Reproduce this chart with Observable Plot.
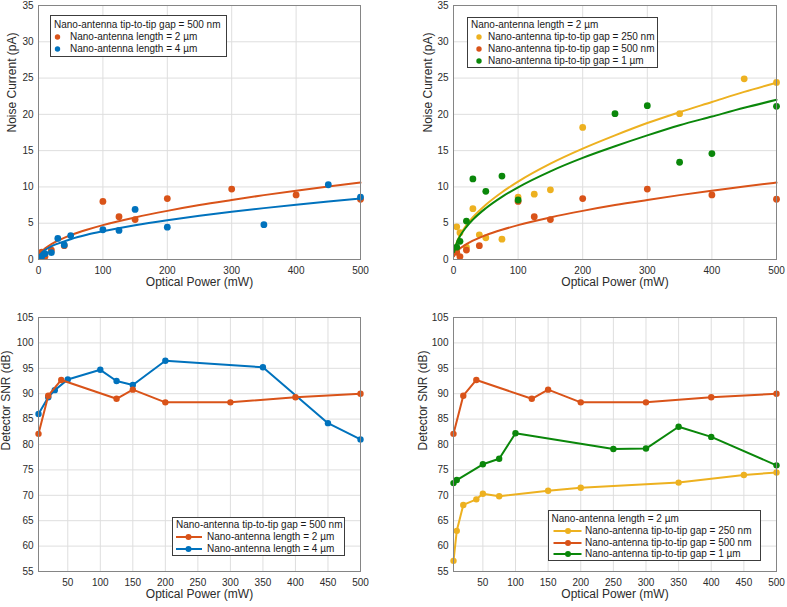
<!DOCTYPE html>
<html><head><meta charset="utf-8">
<script src="https://cdn.jsdelivr.net/npm/d3@7"></script>
<script src="https://cdn.jsdelivr.net/npm/@observablehq/plot@0.6"></script>
<style>
body{margin:0;background:#fff;font-family:"Liberation Sans",Arial,sans-serif;}
#fig{position:relative;width:787px;height:607px;overflow:hidden;background:#fff;}
.panel{position:absolute;}
.legend{position:absolute;background:#fff;border:1px solid #3c3c3c;font-size:10px;color:#1a1a1a;box-sizing:border-box;}
.legend .row{position:absolute;white-space:nowrap;line-height:12px;height:12px;}
.legend svg{position:absolute;overflow:visible;}
</style></head><body><div id="fig"></div>
<script>
// ---------- colours ----------
const cBlue = "#0072BD", cOrange = "#D95319", cYellow = "#EDB120", cGreen = "#0A870A";

// ---------- texts ----------
const xLabel = "Optical Power (mW)";
const yLabelNoise = "Noise Current (pA)";
const yLabelSNR = "Detector SNR (dB)";
const legTitleGap = "Nano-antenna tip-to-tip gap = 500 nm";
const legTitleLen = "Nano-antenna length = 2 µm";
const nameL2 = "Nano-antenna length = 2 µm";
const nameL4 = "Nano-antenna length = 4 µm";
const nameG250 = "Nano-antenna tip-to-tip gap = 250 nm";
const nameG500 = "Nano-antenna tip-to-tip gap = 500 nm";
const nameG1000 = "Nano-antenna tip-to-tip gap = 1 µm";

// ---------- ticks ----------
const xTicksTop = [0, 100, 200, 300, 400, 500];
const yTicksNoise = [0, 5, 10, 15, 20, 25, 30, 35];
const xTicksBottom = [50, 100, 150, 200, 250, 300, 350, 400, 450, 500];
const yTicksSNR = [55, 60, 65, 70, 75, 80, 85, 90, 95, 100, 105];

// ---------- noise current measurements ----------
// length 2 µm / gap 500 nm (same device)
const noisePowerL2 = [5, 10, 20, 40, 100, 125, 150, 200, 300, 400, 500];
const noiseL2 = [1.0, 0.4, 1.3, 1.9, 8.0, 5.9, 5.5, 8.4, 9.7, 8.9, 8.3];
// length 4 µm
const noisePowerL4 = [5, 10, 20, 30, 40, 50, 100, 125, 150, 200, 350, 450, 500];
const noiseL4 = [0.4, 0.8, 0.95, 2.9, 2.0, 3.3, 4.1, 4.0, 6.9, 4.45, 4.8, 10.3, 8.6];
// gap 250 nm
const noisePowerG250 = [5, 10, 20, 30, 40, 50, 75, 100, 125, 150, 200, 350, 450, 500];
const noiseG250 = [4.5, 3.7, 1.7, 7.0, 3.4, 3.0, 2.8, 8.6, 9.0, 9.6, 18.2, 20.1, 24.9, 24.4];
// gap 1 µm
const noisePowerG1000 = [5, 10, 20, 30, 50, 75, 100, 250, 300, 350, 400, 500];
const noiseG1000 = [1.7, 2.5, 5.3, 11.1, 9.4, 11.5, 8.2, 20.1, 21.2, 13.4, 14.6, 21.1];

// ---------- fitted curves ----------
const fitPower = [1, 2, 5, 10, 20, 30, 50, 75, 100, 150, 200, 250, 300, 350, 400, 450, 500];
const fitL2 = [0.47, 0.67, 1.06, 1.5, 2.12, 2.6, 3.35, 4.1, 4.74, 5.8, 6.7, 7.5, 8.2, 8.87, 9.48, 10.06, 10.6];
const fitL4 = [0.43, 0.6, 0.93, 1.3, 1.81, 2.19, 2.8, 3.4, 3.89, 4.73, 5.42, 6.03, 6.58, 7.08, 7.54, 7.98, 8.4];
const fitG250 = [1.03, 1.47, 2.34, 3.32, 4.73, 5.82, 7.54, 9.27, 10.73, 13.2, 15.27, 17.1, 18.8, 20.3, 21.7, 23.1, 24.36];
const fitG1000 = [1.03, 1.45, 2.27, 3.2, 4.5, 5.5, 7.07, 8.64, 9.95, 12.15, 14.0, 15.6, 17.1, 18.5, 19.7, 20.9, 22.0];

// ---------- detector SNR ----------
const snrPowerL2 = [5, 20, 40, 125, 150, 200, 300, 400, 500];
const snrL2 = [82.1, 89.6, 92.7, 89.0, 90.8, 88.3, 88.3, 89.3, 90.0];
const snrPowerL4 = [5, 20, 30, 50, 100, 125, 150, 200, 350, 450, 500];
const snrL4 = [86.0, 89.3, 90.7, 92.8, 94.7, 92.5, 91.7, 96.5, 95.2, 84.2, 81.0];
const snrPowerG250 = [5, 10, 20, 40, 50, 75, 150, 200, 350, 450, 500];
const snrG250 = [57.1, 63.0, 68.1, 69.2, 70.3, 69.8, 70.9, 71.5, 72.5, 74.0, 74.5];
const snrPowerG1000 = [5, 10, 50, 75, 100, 250, 300, 350, 400, 500];
const snrG1000 = [72.4, 73.0, 76.1, 77.2, 82.2, 79.1, 79.2, 83.5, 81.5, 75.9];

// ---------- helpers ----------
const pts = (xs, ys) => xs.map((x, i) => ({x, y: ys[i]}));
const fig = document.getElementById("fig");
const FONT = "'Liberation Sans', Arial, sans-serif";

function scatterSeries(xs, ys, fx, fy, color) {
  return [
    Plot.line(pts(fx, fy), {x: "x", y: "y", stroke: color, strokeWidth: 2, curve: "monotone-x"}),
    Plot.dot(pts(xs, ys), {x: "x", y: "y", r: 3.4, fill: color, stroke: "none"})
  ];
}
function lineSeries(xs, ys, color) {
  return [
    Plot.line(pts(xs, ys), {x: "x", y: "y", stroke: color, strokeWidth: 2}),
    Plot.dot(pts(xs, ys), {x: "x", y: "y", r: 3.2, fill: color, stroke: "none"})
  ];
}

function panel(o) {
  const svg = Plot.plot({
    width: o.width, height: o.height,
    marginLeft: o.mL, marginRight: o.mR, marginTop: o.mT, marginBottom: o.mB,
    style: {fontFamily: FONT, fontSize: "10px", color: "#2b2b2b", background: "transparent", overflow: "visible"},
    x: {domain: o.xDomain},
    y: {domain: o.yDomain},
    marks: [
      Plot.gridX(o.xTicks, {stroke: "#dedede", strokeOpacity: 1, strokeWidth: 1}),
      Plot.gridY(o.yTicks, {stroke: "#dedede", strokeOpacity: 1, strokeWidth: 1}),
      ...o.marks,
      Plot.frame({stroke: "#858585", strokeWidth: 1}),
      Plot.axisX(o.xTicks, {tickSize: 0, tickPadding: 7, label: null, fontSize: 10, fill: "#2b2b2b"}),
      Plot.axisY(o.yTicks, {tickSize: 0, tickPadding: 5, label: null, fontSize: 10, fill: "#2b2b2b"}),
      Plot.text([xLabel], {frameAnchor: "bottom", dy: 26, fontSize: 12, fill: "#2b2b2b"}),
      Plot.text([o.yLabel], {frameAnchor: "left", dx: -o.yLabelDx, dy: o.yLabelDy || 0, rotate: -90, fontSize: 12, fill: "#2b2b2b"})
    ]
  });
  const d = document.createElement("div");
  d.className = "panel";
  d.style.left = o.left + "px";
  d.style.top = o.top + "px";
  d.appendChild(svg);
  fig.appendChild(d);
}

function legend(o) {
  const box = document.createElement("div");
  box.className = "legend";
  Object.assign(box.style, {left: o.left + "px", top: o.top + "px", width: o.width + "px", height: o.height + "px"});
  const rows = [{text: o.title}].concat(o.items);
  rows.forEach((r, i) => {
    const cy = o.rowCenters[i];
    const row = document.createElement("div");
    row.className = "row";
    row.style.top = (cy - 6) + "px";
    row.style.left = (r.color ? o.textX : o.titleX) + "px";
    row.textContent = r.text;
    box.appendChild(row);
    if (r.color) {
      const ns = "http://www.w3.org/2000/svg";
      const s = document.createElementNS(ns, "svg");
      s.setAttribute("width", 1); s.setAttribute("height", 1);
      s.style.left = "0px"; s.style.top = cy + "px";
      if (o.line) {
        const l = document.createElementNS(ns, "line");
        l.setAttribute("x1", o.lineX0); l.setAttribute("x2", o.lineX1);
        l.setAttribute("y1", 0); l.setAttribute("y2", 0);
        l.setAttribute("stroke", r.color); l.setAttribute("stroke-width", 2);
        s.appendChild(l);
      }
      const c = document.createElementNS(ns, "circle");
      c.setAttribute("cx", o.symX); c.setAttribute("cy", 0);
      c.setAttribute("r", o.line ? 3 : 2.7); c.setAttribute("fill", r.color);
      s.appendChild(c);
      box.appendChild(s);
    }
  });
  fig.appendChild(box);
}

// ---------- panel 1: noise vs power, length ----------
panel({
  left: 0, top: 0, width: 393, height: 300, mL: 38, mR: 33, mT: 5, mB: 41,
  xDomain: [0, 500], xTicks: xTicksTop, yDomain: [0, 35], yTicks: yTicksNoise,
  yLabel: yLabelNoise, yLabelDx: 26,
  marks: [
    ...scatterSeries(noisePowerL2, noiseL2, fitPower, fitL2, cOrange),
    ...scatterSeries(noisePowerL4, noiseL4, fitPower, fitL4, cBlue)
  ]
});
// ---------- panel 2: noise vs power, gap ----------
panel({
  left: 393, top: 0, width: 394, height: 300, mL: 60, mR: 11, mT: 5, mB: 41,
  xDomain: [0, 500], xTicks: xTicksTop, yDomain: [0, 35], yTicks: yTicksNoise,
  yLabel: yLabelNoise, yLabelDx: 25,
  marks: [
    ...scatterSeries(noisePowerG250, noiseG250, fitPower, fitG250, cYellow),
    ...scatterSeries(noisePowerL2, noiseL2, fitPower, fitL2, cOrange),
    ...scatterSeries(noisePowerG1000, noiseG1000, fitPower, fitG1000, cGreen)
  ]
});
// ---------- panel 3: SNR, length ----------
panel({
  left: 0, top: 300, width: 393, height: 307, mL: 38, mR: 33, mT: 17, mB: 36,
  xDomain: [5, 500], xTicks: xTicksBottom, yDomain: [55, 105], yTicks: yTicksSNR,
  yLabel: yLabelSNR, yLabelDx: 32, yLabelDy: 6,
  marks: [
    ...lineSeries(snrPowerL4, snrL4, cBlue),
    ...lineSeries(snrPowerL2, snrL2, cOrange)
  ]
});
// ---------- panel 4: SNR, gap ----------
panel({
  left: 393, top: 300, width: 394, height: 307, mL: 60, mR: 11, mT: 17, mB: 36,
  xDomain: [5, 500], xTicks: xTicksBottom, yDomain: [55, 105], yTicks: yTicksSNR,
  yLabel: yLabelSNR, yLabelDx: 30, yLabelDy: 6,
  marks: [
    ...lineSeries(snrPowerG250, snrG250, cYellow),
    ...lineSeries(snrPowerL2, snrL2, cOrange),
    ...lineSeries(snrPowerG1000, snrG1000, cGreen)
  ]
});

// ---------- legends ----------
legend({left: 50, top: 15, width: 177, height: 42, title: legTitleGap,
  items: [{text: nameL2, color: cOrange}, {text: nameL4, color: cBlue}],
  rowCenters: [9, 20.5, 33], titleX: 3, symX: 6.5, textX: 19, line: false});
legend({left: 467, top: 17, width: 191, height: 51, title: legTitleLen,
  items: [{text: nameG250, color: cYellow}, {text: nameG500, color: cOrange}, {text: nameG1000, color: cGreen}],
  rowCenters: [6.5, 18.5, 30.7, 42.9], titleX: 3, symX: 11, textX: 20, line: false});
legend({left: 172, top: 517, width: 173, height: 39, title: legTitleGap,
  items: [{text: nameL2, color: cOrange}, {text: nameL4, color: cBlue}],
  rowCenters: [6.5, 18.5, 30.5], titleX: 3, symX: 15.5, lineX0: 3, lineX1: 29, textX: 34, line: true});
legend({left: 548, top: 510, width: 213, height: 51, title: legTitleLen,
  items: [{text: nameG250, color: cYellow}, {text: nameG500, color: cOrange}, {text: nameG1000, color: cGreen}],
  rowCenters: [7.5, 19.5, 31.5, 43.2], titleX: 2.5, symX: 19, lineX0: 4.5, lineX1: 32.5, textX: 36, line: true});
</script>
</body></html>
